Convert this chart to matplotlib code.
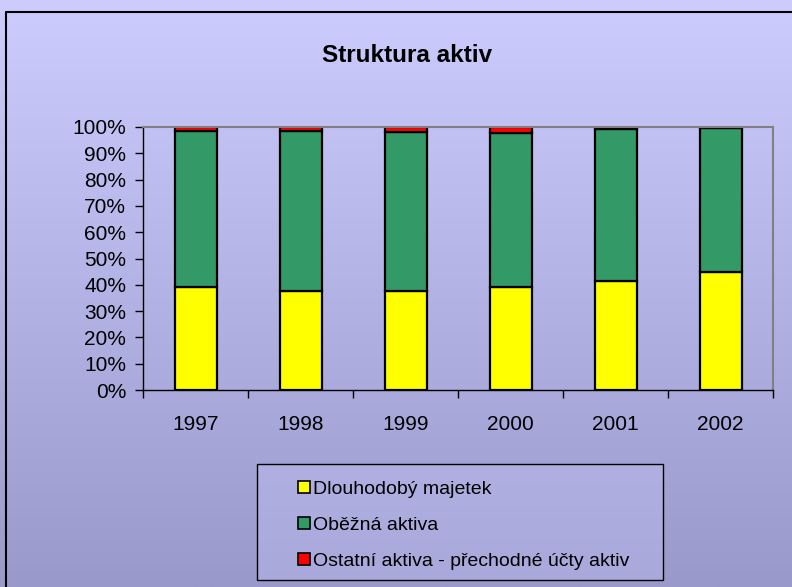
import numpy as np
import matplotlib as mpl
mpl.use('Agg')
from matplotlib import pyplot as plt
from matplotlib.ticker import PercentFormatter
from matplotlib.lines import Line2D
from matplotlib.patches import Rectangle

# data (shares in %)
years = ['1997', '1998', '1999', '2000', '2001', '2002']
dlouhodoby = np.array([39.0, 37.8, 37.8, 39.0, 41.3, 44.7])
ostatni = np.array([1.6, 1.6, 1.8, 2.4, 0.9, 0.3])
obezna = 100 - dlouhodoby - ostatni

labels = ['Dlouhodobý majetek', 'Oběžná aktiva', 'Ostatní aktiva - přechodné účty aktiv']
colors = ['#FFFF00', '#339966', '#FF0000']

plt.rcParams['font.family'] = ['Liberation Sans', 'DejaVu Sans']

fig = plt.figure(figsize=(7.92, 5.87), dpi=100)

# background gradient with a frame
bg = fig.add_axes([0, 0, 1, 1], zorder=-10)
top = np.array([204, 204, 255]) / 255
bot = np.array([153, 153, 204]) / 255
t = np.linspace(0, 1, 256)[:, None]
grad = top * (1 - t[..., None]) + bot * t[..., None]
bg.imshow(grad, aspect='auto', extent=[0, 1, 0, 1], origin='upper')
bg.plot([6/792, 6/792, 1], [0, 1 - 12/587, 1 - 12/587], color='black', lw=1.5)
# legend box
bg.add_patch(Rectangle((257/792, 1 - 580/587), 406/792, 116/587,
                       facecolor='#CCCCFF', alpha=0.3, edgecolor='none'))
bg.add_patch(Rectangle((257/792, 1 - 580/587), 406/792, 116/587,
                       facecolor='none', edgecolor='black', lw=1))
bg.set_xlim(0, 1)
bg.set_ylim(0, 1)
bg.axis('off')

ax = fig.add_axes([143/792, 1 - 390/587, 630/792, 263/587])
ax.patch.set_alpha(0)

x = np.arange(len(years))
w = 0.4
ax.bar(x, dlouhodoby, w, color=colors[0], edgecolor='black', linewidth=1.6)
ax.bar(x, obezna, w, bottom=dlouhodoby, color=colors[1], edgecolor='black', linewidth=1.6)
ax.bar(x, ostatni, w, bottom=dlouhodoby + obezna, color=colors[2], edgecolor='black', linewidth=1.6)

ax.set_xlim(-0.5, len(years) - 0.5)
ax.set_ylim(0, 100)
ax.set_yticks(np.arange(0, 101, 10))
ax.yaxis.set_major_formatter(PercentFormatter(decimals=0))
ax.set_xticks(x)
ax.set_xticklabels(years)
ax.set_xticks(np.arange(-0.5, len(years), 1), minor=True)
ax.tick_params(axis='x', which='major', length=0, pad=18, labelsize=15)
ax.tick_params(axis='x', which='minor', length=6, width=1, direction='out')
ax.tick_params(axis='y', length=6, width=1, direction='out', labelsize=15, pad=6)

for s in ['top', 'right']:
    ax.spines[s].set_color('#808080')
    ax.spines[s].set_linewidth(1.5)
for s in ['left', 'bottom']:
    ax.spines[s].set_color('black')
    ax.spines[s].set_linewidth(1)

fig.text(407/792, 1 - 55/587, 'Struktura aktiv', ha='center', va='center',
         fontsize=17.5, fontweight='bold')

handles = [Line2D([], [], marker='s', linestyle='none', markersize=8,
                  markerfacecolor=c, markeredgecolor='black', markeredgewidth=1.2)
           for c in colors]
leg = fig.legend(handles, labels, loc='upper left',
                 bbox_to_anchor=(294/792, 1 - 480/587), fontsize=14,
                 frameon=False, handletextpad=0.0,
                 handlelength=1.0, labelspacing=0.95, borderpad=0,
                 borderaxespad=0)

fig.savefig('out.png', dpi=100)
